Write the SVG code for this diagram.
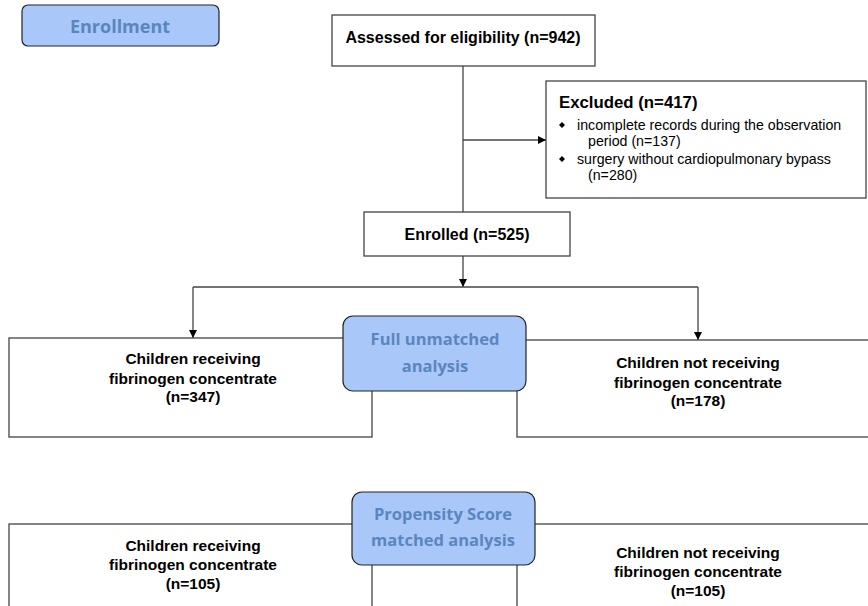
<svg xmlns="http://www.w3.org/2000/svg" width="868" height="606" viewBox="0 0 868 606">
<style>
.box{fill:#fff;stroke:#444;stroke-width:1.3}
.blue{fill:#a9c8f9;stroke:#222;stroke-width:1.2}
.bt{font-family:"Open Sans",sans-serif;font-weight:700;font-size:16.5px;fill:#5a86bf;text-anchor:middle}
.t{font-family:"Liberation Sans",Arial,sans-serif;font-weight:700;font-size:15.5px;fill:#000;text-anchor:middle}
.s{font-family:"Liberation Sans",Arial,sans-serif;font-size:14.2px;fill:#000}
.c{stroke:#444;stroke-width:1.3;fill:none}
</style>
<defs>
<marker id="ah" viewBox="0 0 10 10" refX="10" refY="5" markerWidth="8" markerHeight="8" markerUnits="userSpaceOnUse" orient="auto">
<path d="M0,0 L10,5 L0,10 Z" fill="#000"/>
</marker>
</defs>
<g id="connectors">
<line class="c" x1="463" y1="66" x2="463" y2="212"/>
<line class="c" x1="463" y1="140" x2="546" y2="140" marker-end="url(#ah)"/>
<line class="c" x1="463" y1="256" x2="463" y2="287" marker-end="url(#ah)"/>
<line class="c" x1="193" y1="287" x2="698" y2="287"/>
<line class="c" x1="193" y1="287" x2="193" y2="338" marker-end="url(#ah)"/>
<line class="c" x1="698" y1="287" x2="698" y2="340" marker-end="url(#ah)"/>
</g>
<g id="enrollment">
<rect class="blue" x="22" y="5" width="197" height="41" rx="6"/>
<text class="bt" x="120" y="33" style="font-size:18px">Enrollment</text>
</g>
<g id="assessed">
<rect class="box" x="332" y="15" width="263" height="51"/>
<text class="t" x="463" y="43" style="font-size:16px">Assessed for eligibility (n=942)</text>
</g>
<g id="excluded">
<rect class="box" x="546" y="81" width="320" height="117"/>
<text class="t" x="559" y="108" style="text-anchor:start;font-size:16.8px">Excluded  (n=417)</text>
<path d="M562,122 L565,125 L562,128 L559,125 Z" fill="#000"/>
<text class="s" x="577" y="130">incomplete records during the observation</text>
<text class="s" x="588" y="146">period (n=137)</text>
<path d="M562,156 L565,159 L562,162 L559,159 Z" fill="#000"/>
<text class="s" x="577" y="164">surgery without cardiopulmonary bypass</text>
<text class="s" x="588" y="180">(n=280)</text>
</g>
<g id="enrolled">
<rect class="box" x="364" y="212" width="206" height="44"/>
<text class="t" x="467" y="240" style="font-size:16px">Enrolled (n=525)</text>
</g>
<g id="fib-yes">
<rect class="box" x="9" y="338" width="363" height="99"/>
<text class="t" x="193" y="364">Children receiving</text>
<text class="t" x="193" y="384">fibrinogen concentrate</text>
<text class="t" x="193" y="402">(n=347)</text>
</g>
<g id="fib-no">
<rect class="box" x="517" y="340" width="400" height="97"/>
<text class="t" x="698" y="368">Children not receiving</text>
<text class="t" x="698" y="388">fibrinogen concentrate</text>
<text class="t" x="698" y="406">(n=178)</text>
</g>
<g id="full-unmatched">
<rect class="blue" x="343" y="316" width="183" height="75" rx="10"/>
<text class="bt" x="435" y="345">Full unmatched</text>
<text class="bt" x="435" y="372">analysis</text>
</g>
<g id="psm-yes">
<rect class="box" x="9" y="524" width="363" height="100"/>
<text class="t" x="193" y="551">Children receiving</text>
<text class="t" x="193" y="570">fibrinogen concentrate</text>
<text class="t" x="193" y="589">(n=105)</text>
</g>
<g id="psm-no">
<rect class="box" x="517" y="524" width="400" height="100"/>
<text class="t" x="698" y="558">Children not receiving</text>
<text class="t" x="698" y="577">fibrinogen concentrate</text>
<text class="t" x="698" y="596">(n=105)</text>
</g>
<g id="psm">
<rect class="blue" x="352" y="492" width="183" height="73" rx="10"/>
<text class="bt" x="443" y="520">Propensity Score</text>
<text class="bt" x="443" y="546">matched analysis</text>
</g>
</svg>
